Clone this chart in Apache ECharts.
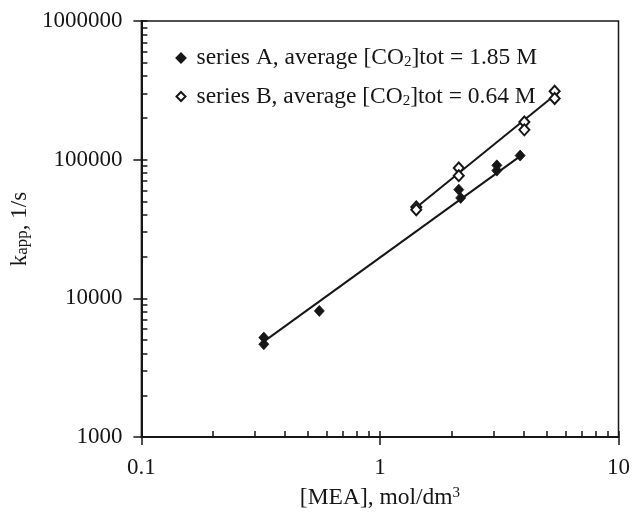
<!DOCTYPE html>
<html><head><meta charset="utf-8">
<script src="https://cdn.jsdelivr.net/npm/echarts@6/dist/echarts.min.js"></script>
<style>html,body{margin:0;padding:0;background:#fff}#c{width:633px;height:515px}</style>
</head><body><div id="c"></div>
<script>
// ---- data ----
const seriesA_x = [0.326, 0.326, 0.557, 2.14, 2.18, 3.09, 3.09, 3.87];
const seriesA_y = [5210, 4670, 8110, 60800, 53000, 91000, 83400, 107000];
const seriesB_x = [1.42, 1.42, 2.14, 2.14, 4.03, 4.03, 5.40, 5.40];
const seriesB_y = [45500, 43500, 87100, 76700, 187000, 164000, 312000, 276000];
const fitA_x = [0.33, 3.9];
const fitA_y = [4950, 107000];
const fitB_x = [1.42, 5.55];
const fitB_y = [45200, 303000];
const xMajorTicks = [0.1, 1, 10];
const xMinorTicks = [0.2,0.3,0.4,0.5,0.6,0.7,0.8,0.9,2,3,4,5,6,7,8,9];
const yMajorTicks = [1000, 10000, 100000, 1000000];
const yMinorTicks = [2000,3000,4000,5000,6000,7000,8000,9000,20000,30000,40000,50000,60000,70000,80000,90000,200000,300000,400000,500000,600000,700000,800000,900000];
const legendA = 'series A, average [CO{sub|2}]tot = 1.85 M';
const legendB = 'series B, average [CO{sub|2}]tot = 0.64 M';

const FONT = '"Liberation Serif", "Times New Roman", serif';
const INK = '#161616';
const zip = (xs, ys) => xs.map((x, i) => [x, ys[i]]);
const fmt = v => String(+(+v).toPrecision(6));

const chart = echarts.init(document.getElementById('c'), null, {renderer: 'canvas'});
chart.setOption({
  animation: false,
  backgroundColor: '#fff',
  textStyle: {fontFamily: FONT, color: INK},
  grid: {left: 140, right: 12, top: 21, bottom: 77, show: true, borderColor: INK, borderWidth: 1.5, backgroundColor: 'transparent'},
  legend: {
    orient: 'vertical', left: 170.5, top: 41, itemWidth: 9, itemHeight: 9, itemGap: 14.5,
    data: [{name: 'A', icon: 'diamond'}, {name: 'B', icon: 'diamond'}],
    formatter: n => '{g|}' + (n === 'A' ? legendA : legendB),
    textStyle: {fontFamily: FONT, fontSize: 23.5, color: INK, lineHeight: 24,
      rich: {g: {width: 6, lineHeight: 24},
             sub: {fontFamily: FONT, fontSize: 15, color: INK, lineHeight: 15, verticalAlign: 'bottom'}}}
  },
  xAxis: [{
    type: 'log', logBase: 10, min: 0.1, max: 10, position: 'bottom',
    axisLine: {show: true, lineStyle: {color: INK, width: 2}},
    axisTick: {show: true, inside: false, length: 8, lineStyle: {color: INK, width: 1.5}},
    axisLabel: {show: true, margin: 19, fontFamily: FONT, fontSize: 23, color: INK, formatter: fmt},
    splitLine: {show: false}, minorTick: {show: false},
    name: '[MEA], mol/dm{sup|3}', nameLocation: 'middle', nameGap: 49,
    nameTextStyle: {fontFamily: FONT, fontSize: 23.5, color: INK, lineHeight: 24,
      rich: {sup: {fontFamily: FONT, fontSize: 15, color: INK, lineHeight: 13, verticalAlign: 'top'}}}
  }, {
    type: 'log', logBase: 10, min: 0.1, max: 10, position: 'bottom',
    axisLine: {show: false}, axisLabel: {show: false}, splitLine: {show: false},
    axisTick: {show: true, inside: true, length: 6, customValues: xMajorTicks.concat(xMinorTicks), lineStyle: {color: INK, width: 1.5}}
  }],
  yAxis: [{
    type: 'log', logBase: 10, min: 1000, max: 1000000, position: 'left',
    axisLine: {show: true, lineStyle: {color: INK, width: 2}},
    axisTick: {show: true, inside: false, length: 8, lineStyle: {color: INK, width: 1.5}},
    axisLabel: {show: true, margin: 19, fontFamily: FONT, fontSize: 23, color: INK, formatter: fmt},
    splitLine: {show: false}, minorTick: {show: false},
    name: '{k|k}{s|app}, 1/s', nameLocation: 'middle', nameGap: 106, nameRotate: 90,
    nameTextStyle: {fontFamily: FONT, fontSize: 23, color: INK, lineHeight: 23,
      rich: {k: {fontFamily: FONT, fontSize: 23, color: INK, lineHeight: 23},
             s: {fontFamily: FONT, fontSize: 17, color: INK, lineHeight: 19, verticalAlign: 'bottom'}}}
  }, {
    type: 'log', logBase: 10, min: 1000, max: 1000000, position: 'left',
    axisLine: {show: false}, axisLabel: {show: false}, splitLine: {show: false},
    axisTick: {show: true, inside: true, length: 6, customValues: yMajorTicks.concat(yMinorTicks), lineStyle: {color: INK, width: 1.5}}
  }],
  series: [
    {name: 'fitA', type: 'line', data: zip(fitA_x, fitA_y), showSymbol: false, symbol: 'none',
     lineStyle: {color: INK, width: 2}, silent: true, z: 2},
    {name: 'fitB', type: 'line', data: zip(fitB_x, fitB_y), showSymbol: false, symbol: 'none',
     lineStyle: {color: INK, width: 2}, silent: true, z: 2},
    {name: 'A', type: 'scatter', data: zip(seriesA_x, seriesA_y), symbol: 'diamond', symbolSize: [10, 11],
     itemStyle: {color: INK, borderColor: INK, borderWidth: 0.8, opacity: 1}, z: 3},
    {name: 'B', type: 'scatter', data: zip(seriesB_x, seriesB_y), symbol: 'diamond', symbolSize: [10, 11],
     itemStyle: {color: '#fff', borderColor: INK, borderWidth: 2, opacity: 1}, z: 4}
  ]
});
</script>
</body></html>
